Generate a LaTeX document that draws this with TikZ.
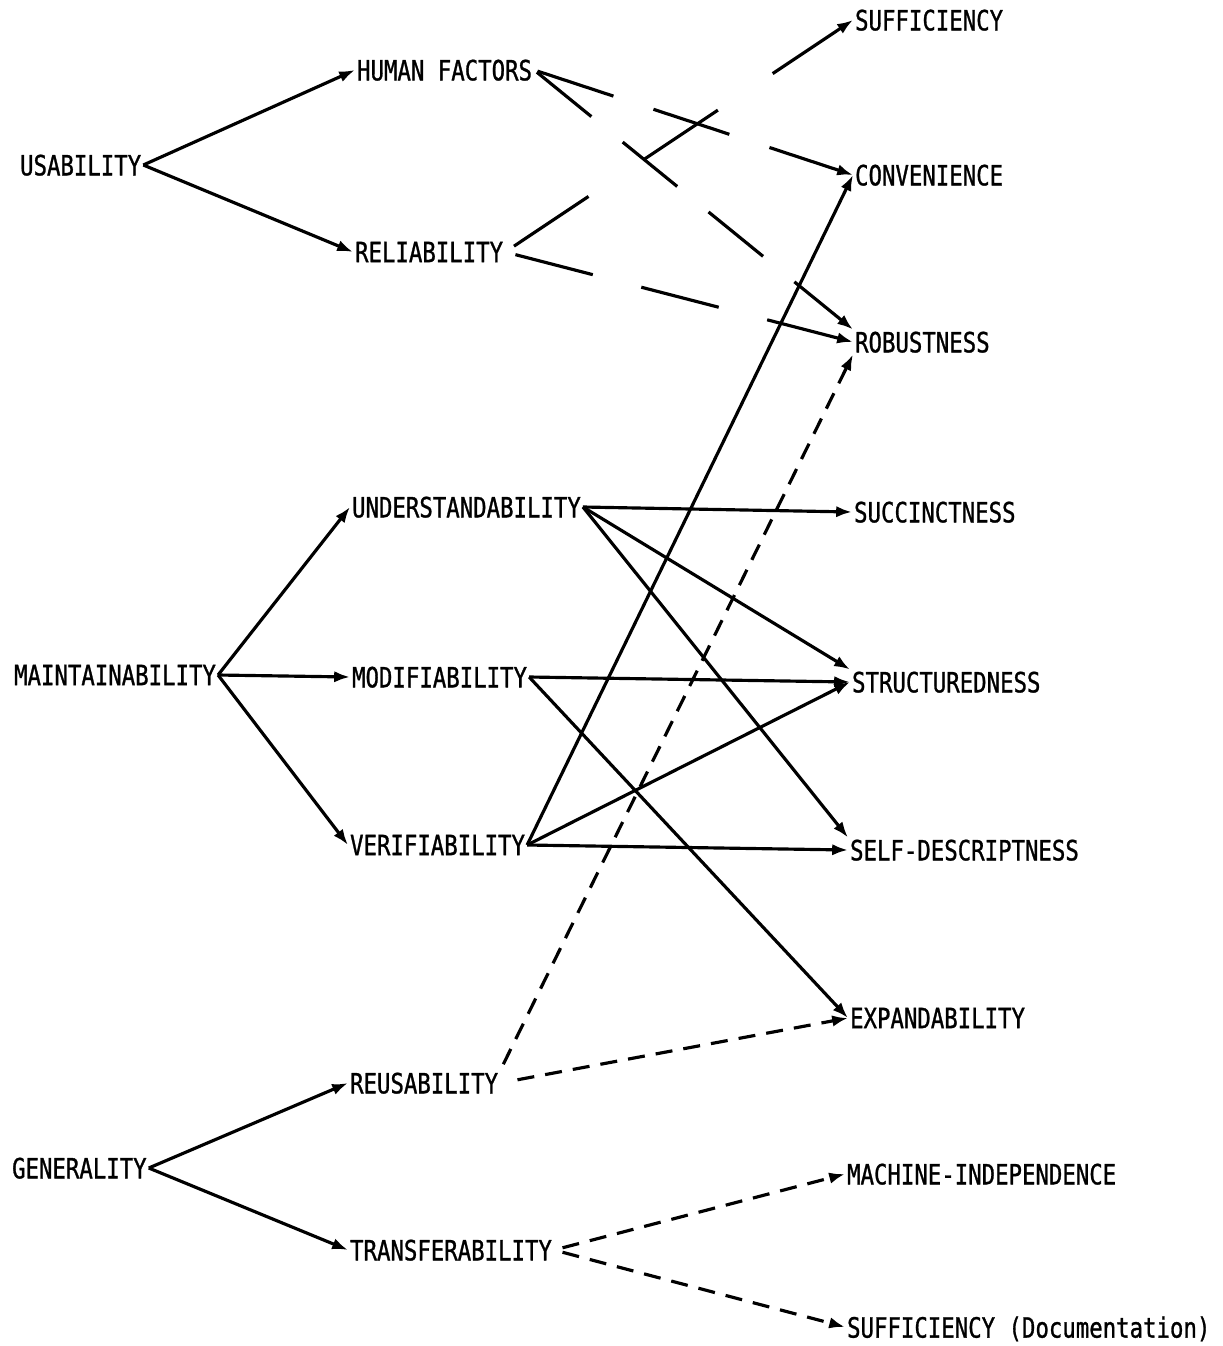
\documentclass[tikz,border=0pt]{standalone}
\usepackage{fontspec}
\setmonofont{DejaVu Sans Mono}[FakeStretch=0.8, FakeBold=1]
\usepackage{tikz}
\usetikzlibrary{arrows.meta,calc}
\tikzset{attr/.style={anchor=west, inner sep=1pt, text depth=0pt, font=\ttfamily\fontsize{15.9}{18}\selectfont}}
\tikzset{link/.style={line width=1.8pt, -{Latex[length=9pt,width=6.5pt]}}}
\tikzset{longdash/.style 2 args={link, dash pattern=on #1 off #2}}
\tikzset{shortdash/.style={link, dash pattern=on 9.7pt off 6.3pt}}

\begin{document}
\begin{tikzpicture}[x=0.02cm, y=-0.02cm]
\useasboundingbox (0,0) rectangle (1223,1346);
%top level
\node (usab) at (18,165)[attr]{USABILITY};
\node (main) at (12,675)[attr]{MAINTAINABILITY};
\node (gene) at (10,1168)[attr]{GENERALITY};
%middle level
\node (hfac) at (355,70)[attr]{HUMAN FACTORS};
\node (reli) at (353,252)[attr]{RELIABILITY};
\node (unde) at (350,507)[attr]{UNDERSTANDABILITY};
\node (modi) at (350,677)[attr]{MODIFIABILITY};
\node (veri) at (348,845)[attr]{VERIFIABILITY};
\node (reus) at (348,1083)[attr]{REUSABILITY};
\node (tran) at (348,1250)[attr]{TRANSFERABILITY};
%bottom level
\node (suff) at (853,20)[attr]{SUFFICIENCY};
\node (conv) at (853,175)[attr]{CONVENIENCE};
\node (robu) at (853,342)[attr]{ROBUSTNESS};
\node (succ) at (852,512)[attr]{SUCCINCTNESS};
\node (stru) at (850,682)[attr]{STRUCTUREDNESS};
\node (self) at (848,850)[attr]{SELF-DESCRIPTNESS};
\node (expa) at (848,1018)[attr]{EXPANDABILITY};
\node (mach) at (845,1174)[attr]{MACHINE-INDEPENDENCE};
\node (sdoc) at (845,1327)[attr]{SUFFICIENCY (Documentation)};

\draw[link] (usab.east)--(hfac.west);
\draw[link] (usab.east)--(reli.west);
\draw[link] (main.east)--(unde.west);
\draw[link] (main.east)--(modi.west);
\draw[link] (main.east)--(veri.west);
\draw[link] (gene.east)--(reus.west);
\draw[link] (gene.east)--(tran.west);

\draw[link] (unde.east)--(succ.west);
\draw[link] (unde.east)--(stru.north west);
\draw[link] (unde.east)--(self.north west);
\draw[link] (modi.east)--(stru.west);
\draw[link] (modi.east)--(expa.west);
\draw[link] (veri.east)--(conv.west);
\draw[link] (veri.east)--(stru.west);
\draw[link] (veri.east)--(self.west);

\draw[longdash={45.5pt}{24pt}, shorten <=2pt] (hfac.east)--(conv.west);
\draw[longdash={40pt}{23pt}, shorten <=2pt] (hfac.east)--(robu.north west);
\draw[longdash={51pt}{37.5pt}, shorten <=6pt] (reli.east)--(suff.west);
\draw[longdash={45.5pt}{28.5pt}, shorten <=6pt] (reli.east)--(robu.west);

\draw[shortdash, shorten <=4pt] (reus.north east)--(robu.south west);
\draw[shortdash, shorten <=10pt] (reus.east)--(expa.west);
\draw[shortdash, shorten <=5pt] (tran.east)--(mach.west);
\draw[shortdash, shorten <=5pt] (tran.east)--(sdoc.west);
\end{tikzpicture}
\end{document}
